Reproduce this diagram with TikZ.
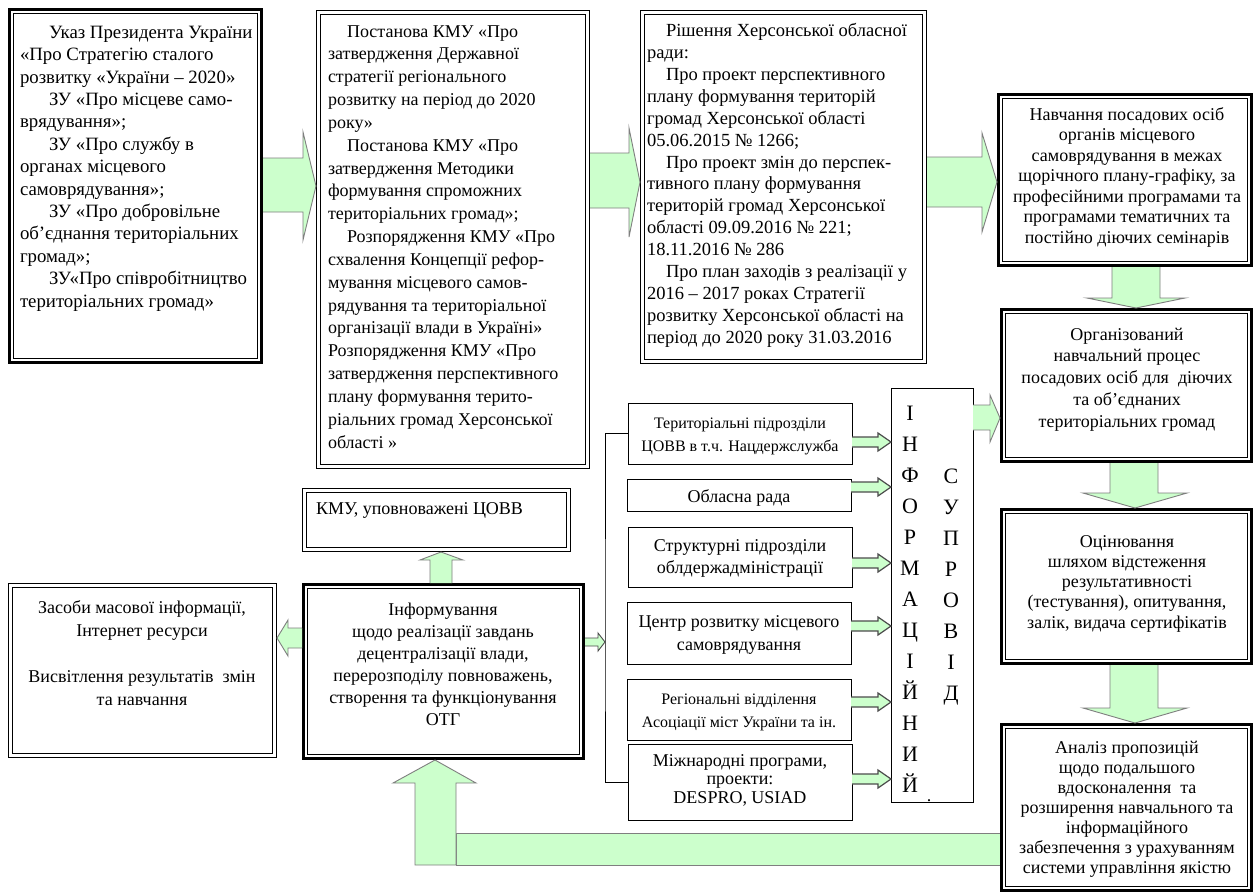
\documentclass[tikz,border=0pt]{standalone}
\usepackage{fontspec}
\setmainfont{Liberation Serif}
\usetikzlibrary{calc}
\definecolor{agreen}{HTML}{CCFFCC}
\definecolor{agray}{HTML}{7F7F7F}
\newcommand\pind[1]{\hspace*{#1pt}}
\newcommand\ttbox[5]{%
  \node[inner sep=0pt, outer sep=0pt, minimum width={#4-#2}, minimum height={#5-#3}, anchor=north west] (#1) at (#2,#3) {};
  \draw[line width=2.6pt] ([shift={(1.3,1.3)}]#1.north west) rectangle ([shift={(-1.3,-1.3)}]#1.south east);
  \draw[line width=0.9pt] ([shift={(5.5,5.5)}]#1.north west) rectangle ([shift={(-5.5,-5.5)}]#1.south east);
}
\newcommand\dtbox[5]{%
  \node[inner sep=0pt, outer sep=0pt, minimum width={#4-#2}, minimum height={#5-#3}, anchor=north west] (#1) at (#2,#3) {};
  \draw[line width=1.4pt] ([shift={(0.7,0.7)}]#1.north west) rectangle ([shift={(-0.7,-0.7)}]#1.south east);
  \draw[line width=1pt] ([shift={(4.5,4.5)}]#1.north west) rectangle ([shift={(-4.5,-4.5)}]#1.south east);
}
\newcommand\thinbox[5]{%
  \node[draw, line width=1pt, inner sep=0pt, outer sep=0pt, minimum width={#4-#2}, minimum height={#5-#3}, anchor=north west] (#1) at (#2,#3) {};
}
\tikzset{
  garrow/.style={fill=agreen, draw=agray, line width=0.9pt, line join=miter},
  sarrow/.style={fill=agreen, draw=black!70, line width=1.2pt, line join=miter},
  txt/.style={inner sep=0pt, outer sep=0pt},
  letter/.style={inner sep=0pt, anchor=base, font=\fontsize{22}{22}\selectfont},
}
\begin{document}
\begin{tikzpicture}[x=1pt, y=-1pt]
\useasboundingbox (0,0) rectangle (1255,895);
\fill[white] (0,0) rectangle (1255,895);

% ---------- boxes ----------
\ttbox{b1}{8}{8}{263}{364}
\dtbox{b2}{316}{10}{590}{469}
\dtbox{b3}{640}{10}{927}{364}
\ttbox{b4}{997}{93}{1253}{267}
\ttbox{b5}{1000}{308}{1253}{463}
\ttbox{b6}{1000}{508}{1253}{665}
\ttbox{b7}{1000}{723}{1253}{892}
\dtbox{kmu}{302}{488}{571}{552}
\dtbox{zmi}{8}{583}{277}{758}
\ttbox{inf}{302}{583}{585}{760}
\thinbox{T1}{628}{403}{852}{464}
\thinbox{T2}{627}{479}{851}{511}
\thinbox{T3}{628}{527}{852}{587}
\thinbox{T4}{627}{602}{851}{664}
\thinbox{T5}{627}{679}{851}{740}
\thinbox{T6}{628}{744}{852}{820}
\thinbox{col}{891}{388}{973}{802}

% ---------- texts (anchored at the baseline of the last line) ----------
\node[txt, anchor=base west, align=left, font=\fontsize{18.8}{22.4}\selectfont] (t1) at (20,307)
 {\pind{29}Указ Президента України\\«Про Стратегію сталого\\розвитку «України – 2020»\\\pind{29}ЗУ «Про місцеве само-\\врядування»;\\\pind{29}ЗУ «Про службу в\\органах місцевого\\самоврядування»;\\\pind{29}ЗУ «Про добровільне\\об’єднання територіальних\\громад»;\\\pind{29}ЗУ«Про співробітництво\\територіальних громад»};

\node[txt, anchor=base west, align=left, font=\fontsize{18}{22.83}\selectfont] (t2) at (328,448)
 {\pind{19}Постанова КМУ «Про\\затвердження Державної\\стратегії регіонального\\розвитку на період до 2020\\року»\\\pind{19}Постанова КМУ «Про\\затвердження Методики\\формування спроможних\\територіальних громад»;\\\pind{19}Розпорядження КМУ «Про\\схвалення Концепції рефор-\\мування місцевого самов-\\рядування та територіальної\\організації влади в Україні»\\Розпорядження КМУ «Про\\затвердження перспективного\\плану формування терито-\\ріальних громад Херсонської\\області »};

\node[txt, anchor=base west, align=left, font=\fontsize{18.5}{21.86}\selectfont] (t3) at (647,343)
 {\pind{19}Рішення Херсонської обласної\\ради:\\\pind{19}Про проект перспективного\\плану формування територій\\громад Херсонської області\\05.06.2015 № 1266;\\\pind{19}Про проект змін до перспек-\\тивного плану формування\\територій громад Херсонської\\області 09.09.2016 № 221;\\18.11.2016 № 286\\\pind{19}Про план заходів з реалізації у\\2016 – 2017 роках Стратегії\\розвитку Херсонської області на\\період до 2020 року 31.03.2016};

\node[txt, anchor=base, align=center, font=\fontsize{18}{20.5}\selectfont] (t4) at (1127,243)
 {Навчання посадових осіб\\органів місцевого\\самоврядування в межах\\щорічного плану-графіку, за\\професійними програмами та\\програмами тематичних та\\постійно діючих семінарів};

\node[txt, anchor=base, align=center, font=\fontsize{18}{21.75}\selectfont] (t5) at (1127,427)
 {Організований\\навчальний процес\\посадових осіб для\ \ діючих\\та об’єднаних\\територіальних громад};

\node[txt, anchor=base, align=center, font=\fontsize{18}{20.25}\selectfont] (t6) at (1127,628)
 {Оцінювання\\шляхом відстеження\\результативності\\(тестування), опитування,\\залік, видача сертифікатів};

\node[txt, anchor=base, align=center, font=\fontsize{18}{20}\selectfont] (t7) at (1127,873)
 {Аналіз пропозицій\\щодо подальшого\\вдосконалення\ \ та\\розширення навчального та\\інформаційного\\забезпечення з урахуванням\\системи управління якістю};

\node[txt, anchor=base, align=center, font=\fontsize{18}{22}\selectfont] (tinf) at (443,725)
 {Інформування\\щодо реалізації завдань\\децентралізації влади,\\перерозподілу повноважень,\\створення та функціонування\\ОТГ};

\node[txt, anchor=base, align=center, font=\fontsize{18}{23}\selectfont] (tzmi) at (142,705)
 {Засоби масової інформації,\\Інтернет ресурси\\[23pt]Висвітлення результатів\ \ змін\\та навчання};

\node[txt, anchor=base west, font=\fontsize{18}{22}\selectfont] (tkmu) at (316,514) {КМУ, уповноважені ЦОВВ};

\node[txt, anchor=base, align=center, font=\fontsize{16}{23}\selectfont] (tT1) at (740,451)
 {Територіальні підрозділи\\ЦОВВ в т.ч. Нацдержслужба};
\node[txt, anchor=base, font=\fontsize{18}{22}\selectfont] (tT2) at (739,502) {Обласна рада};
\node[txt, anchor=base, align=center, font=\fontsize{18}{22}\selectfont] (tT3) at (740,573)
 {Структурні підрозділи\\облдержадміністрації};
\node[txt, anchor=base, align=center, font=\fontsize{18}{23}\selectfont] (tT4) at (739,650)
 {Центр розвитку місцевого\\самоврядування};
\node[txt, anchor=base, align=center, font=\fontsize{16}{23}\selectfont] (tT5) at (739,727)
 {Регіональні відділення\\Асоціації міст України та ін.};
\node[txt, anchor=base, align=center, font=\fontsize{18}{18.5}\selectfont] (tT6) at (740,803)
 {Міжнародні програми,\\проекти:\\DESPRO, USIAD};

% column letters
\foreach \ch [count=\i] in {І,Н,Ф,О,Р,М,А,Ц,І,Й,Н,И,Й}
  \node[letter] (l\i) at (910,{420+31*(\i-1)}) {\ch};
\foreach \ch [count=\i] in {С,У,П,Р,О,В,І,Д}
  \node[letter] (r\i) at (951,{483+31*(\i-1)}) {\ch};
\node[txt, anchor=base, font=\fontsize{18}{18}\selectfont] (dot) at (929,801) {.};

% ---------- block arrows ----------
\draw[garrow] (b1.east |- 0,158) -- (303,158) -- (303,132) -- (b2.west |- 0,186) -- (303,240) -- (303,212) -- (b1.east |- 0,212);
\draw[garrow] (b2.east |- 0,153) -- (629,153) -- (629,128) -- (b3.west |- 0,182) -- (629,237) -- (629,208) -- (b2.east |- 0,208);
\draw[garrow] (b3.east |- 0,157) -- (982,157) -- (982,133) -- (b4.west |- 0,182) -- (982,232) -- (982,207) -- (b3.east |- 0,207);
\draw[garrow] (col.east |- 0,405) -- (990,405) -- (990,395) -- (b5.west |- 0,418) -- (990,442) -- (990,430) -- (col.east |- 0,430);
\draw[garrow] (b4.south -| 1112,0) -- (1112,298) -- (1087,298) -- (b5.north -| 1136,0) -- (1185,298) -- (1160,298) -- (b4.south -| 1160,0);
\draw[garrow] (b5.south -| 1110,0) -- (1110,493) -- (1083,493) -- (b6.north -| 1135,0) -- (1187,493) -- (1158,493) -- (b5.south -| 1158,0);
\draw[garrow] (b6.south -| 1110,0) -- (1110,708) -- (1083,708) -- (b7.north -| 1135,0) -- (1187,708) -- (1158,708) -- (b6.south -| 1158,0);
\draw[garrow] (inf.north -| 430,0) -- (430,560) -- (420,560) -- (kmu.south -| 441,0) -- (463,560) -- (452,560) -- (inf.north -| 452,0);
\draw[garrow] (inf.west |- 0,628) -- (288,628) -- (288,620) -- (zmi.east |- 0,638) -- (288,656) -- (288,648) -- (inf.west |- 0,648);
% feedback arrow
\draw[garrow] (b7.west |- 0,833) -- (456,833) -- (456,865) -- (b7.west |- 0,865);
\draw[garrow] (456,865) -- (456,783) -- (476,783) -- (inf.south -| 435,0) -- (393,783) -- (415,783) -- (415,865) -- cycle;

% bracket and small arrows
\coordinate (br) at (605,642);
\draw[line width=1pt] (T1.west) -| (br) |- (T6.west);
\draw[sarrow, line width=0.9pt] (inf.east |- 0,638) -- (598,638) -- (598,633) -- (br) -- (598,651) -- (598,646) -- (inf.east |- 0,646);
\foreach \n/\yy in {T1/442,T2/487,T3/563,T4/626,T5/702,T6/779}{
  \pgfmathsetmacro\ya{\yy-5}\pgfmathsetmacro\yb{\yy+5}
  \pgfmathsetmacro\yc{\yy-9}\pgfmathsetmacro\yd{\yy+9}
  \draw[sarrow] (\n.east |- 0,\ya) -- (878,\ya) -- (878,\yc) -- (col.west |- 0,\yy) -- (878,\yd) -- (878,\yb) -- (\n.east |- 0,\yb);
}
\end{tikzpicture}
\end{document}
